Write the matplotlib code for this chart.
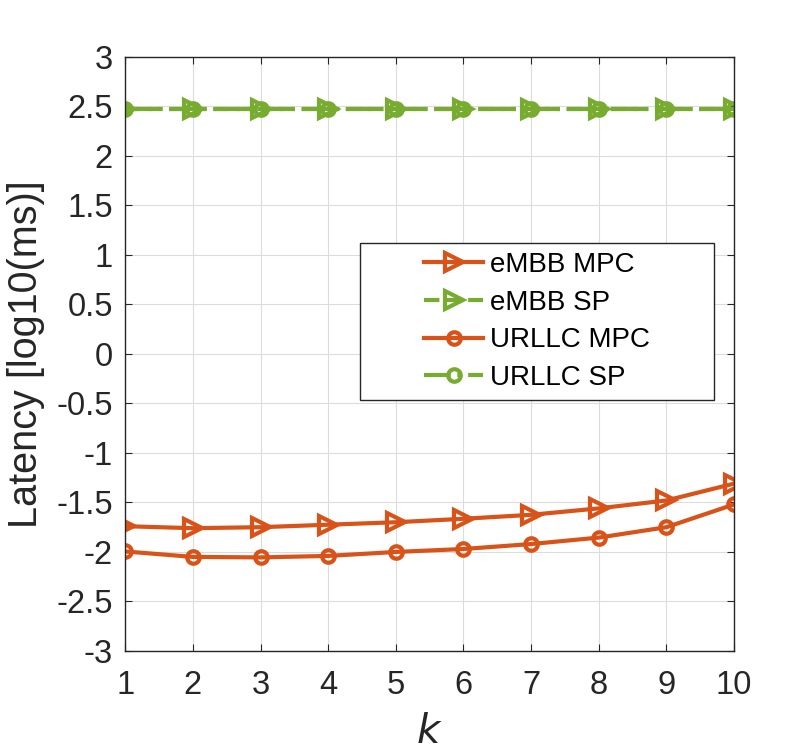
import numpy as np
import matplotlib
matplotlib.use("Agg")
import matplotlib.pyplot as plt
from matplotlib.patches import Rectangle

plt.rcParams['font.family'] = ['Liberation Sans', 'DejaVu Sans']

k = [1, 2, 3, 4, 5, 6, 7, 8, 9, 10]
embbMpc = [-1.74, -1.76, -1.75, -1.725, -1.70, -1.665, -1.625, -1.56, -1.48, -1.31]
embbSp = [2.47, 2.47, 2.47, 2.47, 2.47, 2.47, 2.47, 2.47, 2.47, 2.47]
urllcMpc = [-1.995, -2.05, -2.055, -2.04, -2.0, -1.97, -1.92, -1.855, -1.75, -1.52]
urllcSp = [2.47, 2.47, 2.47, 2.47, 2.47, 2.47, 2.47, 2.47, 2.47, 2.47]

orange = '#D95319'
green = '#77AC30'
dark = '#262626'

fig = plt.figure(figsize=(8.12, 7.52), dpi=100, facecolor='white')
ax = fig.add_axes([0.1543, 0.1343, 0.7497, 0.7903])

lw = 3.0
ax.plot(k, embbMpc, '-', color=orange, lw=lw, marker='>', markersize=13,
        markerfacecolor='none', markeredgewidth=lw, label='eMBB MPC')
ax.plot(k, embbSp, '--', color=green, lw=lw, marker='>', markersize=13,
        markerfacecolor='none', markeredgewidth=lw, label='eMBB SP')
ax.plot(k, urllcMpc, '-', color=orange, lw=lw, marker='o', markersize=9,
        markerfacecolor='none', markeredgewidth=lw, label='URLLC MPC')
ax.plot(k, urllcSp, '-.', color=green, lw=lw, marker='o', markersize=9,
        markerfacecolor='none', markeredgewidth=lw, label='URLLC SP')

ax.set_xlim(1, 10)
ax.set_ylim(-3, 3)
ax.set_xticks(k)
yt = np.arange(-3, 3.01, 0.5)
ax.set_yticks(yt)
ax.set_yticklabels(['%g' % v for v in yt])

ax.grid(True, color='#dcdcdc', lw=0.8)
ax.set_axisbelow(True)
for s in ax.spines.values():
    s.set_color(dark)
    s.set_linewidth(1.0)
ax.tick_params(direction='in', length=5, width=0.8, colors=dark,
               top=True, right=True, labelsize=23.5)
ax.tick_params(axis='x', pad=14)
ax.tick_params(axis='y', pad=9)

ax.set_xlabel('$k$', fontsize=29, color=dark, labelpad=8)
ax.set_ylabel('Latency [log10(ms)]', fontsize=28.5, color=dark, labelpad=8)

# legend frame drawn separately so the entries sit centred in a wide box
x0, x1 = 0.3856, 0.967
y0, y1 = 0.4223, 0.6865
ax.add_patch(Rectangle((x0, y0), x1 - x0, y1 - y0, transform=ax.transAxes,
                       facecolor='white', edgecolor=dark, lw=1.0, zorder=5))
leg = ax.legend(loc='center', bbox_to_anchor=((x0 + x1) / 2, (y0 + y1) / 2),
                fontsize=20, frameon=False, handlelength=2.1,
                handletextpad=0.25, labelspacing=0.42, borderpad=0,
                borderaxespad=0)
leg.set_zorder(6)

plt.savefig('out.png', dpi=100, facecolor='white')
